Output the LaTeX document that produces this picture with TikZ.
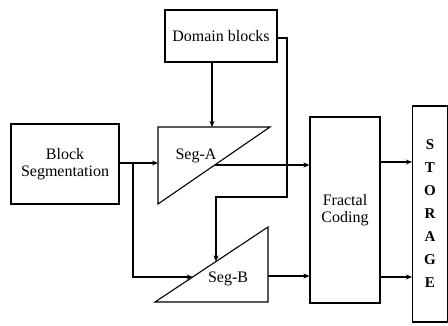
\documentclass[tikz,border=0pt]{standalone}
\usepackage{fontspec}
\setmainfont{Liberation Serif}
\usetikzlibrary{arrows.meta,calc}
\begin{document}
\begin{tikzpicture}[x=1pt,y=-1pt,
  line width=1.1pt,
  box/.style={draw,rectangle,inner sep=0pt,align=center,font=\fontsize{16}{17}\selectfont},
  lbl/.style={inner sep=0pt,font=\fontsize{16}{17}\selectfont},
  arr/.style={-{Stealth[length=6pt,width=5pt]}}]
\useasboundingbox (0,0) rectangle (448,326);
% boxes
\node[box,minimum width=112pt,minimum height=52pt] (dom) at (221,36) {Domain blocks};
\node[box,minimum width=108pt,minimum height=80pt] (seg) at (65,164) {Block\\Segmentation};
\node[box,minimum width=70pt,minimum height=186pt] (frac) at (345,210) {Fractal\\Coding};
\node[box,minimum width=35pt,minimum height=216pt,font=\fontsize{15}{23}\selectfont\bfseries] (stor) at (430,214) {S\\T\\O\\R\\A\\G\\E};
% triangles
\coordinate (a1) at (158,127); \coordinate (a2) at (270,127); \coordinate (a3) at (158,204);
\draw (a1) -- (a2) -- (a3) -- cycle;
\node[lbl] (sa) at (196,156) {Seg-A};
\coordinate (b1) at (155,302); \coordinate (b2) at (268,227); \coordinate (b3) at (268,302);
\draw (b1) -- (b2) -- (b3) -- cycle;
\node[lbl] (sb) at (228,279) {Seg-B};
% connectors
\coordinate (ain) at (158,163);
\draw[arr] (seg.east |- ain) -- (ain);
\coordinate (br) at (133,163);
\coordinate (bin) at (192.7,277);
\draw[arr] (br) |- (bin);
\coordinate (atop) at (212,127);
\draw[arr] (dom.south -| atop) -- (atop);
\coordinate (bhyp) at (216,261.5);
\draw[arr] (dom.east |- 0,38) -- (287,38) -- (287,197) -- (216,197) -- (bhyp);
\coordinate (aout) at (214.7,165);
\draw[arr] (aout) -- (frac.west |- aout);
\coordinate (bout) at (268,276);
\draw[arr] (bout) -- (frac.west |- bout);
\coordinate (f1) at (380,162); \coordinate (f2) at (380,277);
\draw[arr] (f1) -- (stor.west |- f1);
\draw[arr] (f2) -- (stor.west |- f2);
\end{tikzpicture}
\end{document}
